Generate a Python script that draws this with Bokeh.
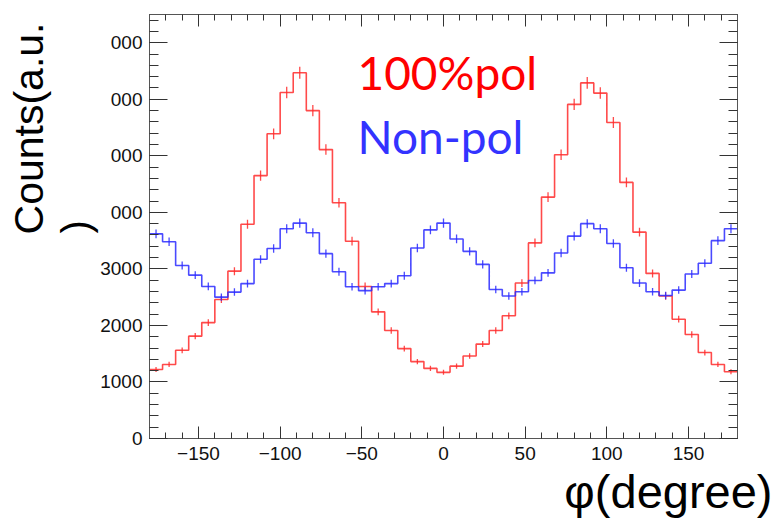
import math
from bokeh.plotting import figure
from bokeh.models import (Range1d, LinearAxis, SingleIntervalTicker, Label, Title,
                          CustomLabelingPolicy)
from bokeh.embed import file_html
from bokeh.resources import INLINE

# ---------------- data ----------------
phi_edges = list(range(-180, 181, 8))          # 45 bins of 8 degrees
pol100 = [1220, 1310, 1560, 1810, 2050, 2460, 2960, 3790, 4650, 5390,
          6120, 6470, 5800, 5110, 4170, 3490, 2690, 2240, 1910, 1590,
          1360, 1240, 1170, 1280, 1460, 1670, 1910, 2170, 2750, 3460,
          4270, 5020, 5910, 6290, 6110, 5590, 4530, 3650, 2920, 2520,
          2110, 1840, 1520, 1310, 1180]
nonpol = [3620, 3480, 3060, 2890, 2690, 2500, 2590, 2740, 3170, 3360,
          3710, 3810, 3640, 3270, 2950, 2685, 2615, 2685, 2740, 2880,
          3370, 3690, 3810, 3530, 3310, 3080, 2635, 2520, 2595, 2795,
          2930, 3280, 3580, 3800, 3710, 3450, 3020, 2750, 2595, 2530,
          2625, 2910, 3100, 3500, 3710]
x_tick_labels = {-150: "\u2212150", -100: "\u2212100", -50: "\u221250"}
y_tick_labels = {0: "0", 1000: "1000", 2000: "2000", 3000: "3000",
                 4000: "000", 5000: "000", 6000: "000", 7000: "000"}
y_title_1 = "Counts(a.u."
y_title_2 = ")"
x_title = "\u03c6(degree)"
leg_red = "100%pol"
leg_blue = "Non-pol"

RED = "#ff2a2a"
BLUE = "#2a2aff"

XMIN, XMAX, YMIN, YMAX = -180, 180, 0, 7500
W, H = 775, 522
FL, FR, FT, FB = 149, 737, 14, 437.7

p = figure(width=W, height=H, x_range=Range1d(XMIN, XMAX), y_range=Range1d(YMIN, YMAX),
           output_backend="svg", toolbar_location=None,
           min_border_left=FL, min_border_right=W - FR, min_border_top=FT,
           min_border_bottom=int(H - FB))
p.xgrid.visible = False
p.ygrid.visible = False
p.outline_line_color = "#555555"
p.background_fill_color = "white"
p.border_fill_color = "white"

no_labels = CustomLabelingPolicy(code="""
try { for (let i = 0; i < indices.size; i++) { indices.unset(i) } } catch (e) {}
return indices
""")


def style_x(ax, labels=True):
    ax.ticker = SingleIntervalTicker(interval=50, num_minor_ticks=5)
    ax.major_tick_in = 12
    ax.major_tick_out = 0
    ax.minor_tick_in = 6
    ax.minor_tick_out = 0
    ax.axis_line_color = "#555555"
    ax.major_tick_line_color = "#333333"
    ax.minor_tick_line_color = "#333333"
    ax.major_label_text_font = "Liberation Sans"
    ax.major_label_text_font_size = "19px" if labels else "0px"
    ax.major_label_text_color = "#111111"
    ax.major_label_standoff = 8 if labels else 0
    ax.major_label_overrides = x_tick_labels
    if not labels:
        ax.major_label_policy = no_labels


def style_y(ax, labels=True):
    ax.ticker = SingleIntervalTicker(interval=1000, num_minor_ticks=5)
    ax.major_tick_in = 18
    ax.major_tick_out = 0
    ax.minor_tick_in = 9
    ax.minor_tick_out = 0
    ax.axis_line_color = "#555555"
    ax.major_tick_line_color = "#333333"
    ax.minor_tick_line_color = "#333333"
    ax.major_label_text_font = "Liberation Sans"
    ax.major_label_text_font_size = "19px" if labels else "0px"
    ax.major_label_text_color = "#111111"
    ax.major_label_standoff = 7 if labels else 0
    ax.major_label_overrides = y_tick_labels
    if not labels:
        ax.major_label_policy = no_labels


style_x(p.xaxis[0])
style_y(p.yaxis[0])
top_ax = LinearAxis()
style_x(top_ax, labels=False)
p.add_layout(top_ax, "above")
right_ax = LinearAxis()
style_y(right_ax, labels=False)
p.add_layout(right_ax, "right")

# histograms as steps with error bars
centers = [(a + b) / 2 for a, b in zip(phi_edges[:-1], phi_edges[1:])]
for vals, col in ((pol100, RED), (nonpol, BLUE)):
    p.step(x=phi_edges, y=vals + [vals[-1]], mode="after", line_color=col,
           line_width=1.6, line_alpha=0.85)
    err = [1.3 * math.sqrt(v) for v in vals]
    p.segment(x0=centers, y0=[v - e for v, e in zip(vals, err)],
              x1=centers, y1=[v + e for v, e in zip(vals, err)],
              line_color=col, line_width=1.3, line_alpha=0.85)


def dx(px):
    return XMIN + (px - FL) * (XMAX - XMIN) / (FR - FL)


def dy(py):
    return YMIN + (FB - py) * (YMAX - YMIN) / (FB - FT)


# axis titles as side-panel titles (not clipped by the frame)
TFONT = "Liberation Sans"
p.add_layout(Title(text=y_title_2, align="left", offset=205, standoff=0,
                   text_font=TFONT, text_font_size="40px",
                   text_font_style="normal", text_color="black"), "left")
p.add_layout(Title(text=y_title_1, align="right", offset=8, standoff=0,
                   text_font=TFONT, text_font_size="41px",
                   text_font_style="normal", text_color="black"), "left")
p.add_layout(Title(text=x_title, align="right", offset=-35, standoff=0,
                   text_font=TFONT, text_font_size="47px",
                   text_font_style="normal", text_color="black"), "below")

# legend texts inside the frame
p.add_layout(Label(x=dx(357), y=dy(72), text=leg_red,
                   text_font="Lato", text_font_size="46px",
                   text_baseline="alphabetic", text_align="left", text_color="#ff0000"))
p.add_layout(Label(x=dx(357), y=dy(136), text=leg_blue,
                   text_font="Lato", text_font_size="46px",
                   text_baseline="alphabetic", text_align="left", text_color="#3333ff"))

open("out.html", "w").write(file_html(p, INLINE))
